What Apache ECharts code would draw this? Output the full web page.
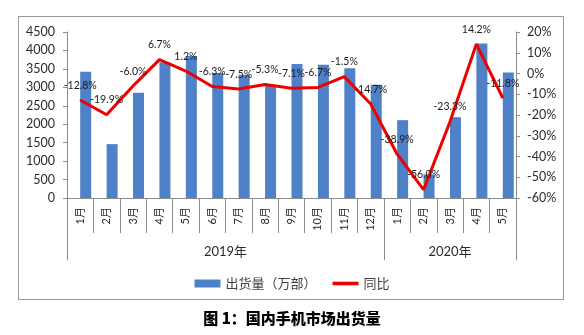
<!DOCTYPE html>
<html>
<head>
<meta charset="utf-8">
<script src="https://cdn.jsdelivr.net/npm/echarts@6/dist/echarts.min.js"></script>
<style>
html,body{margin:0;padding:0;background:#fff;}
#wrap{position:relative;width:584px;height:335px;}
#chart{position:absolute;left:0;top:0;width:584px;height:335px;}
#frame{position:absolute;left:18px;top:16px;width:544px;height:282px;border:1px solid #9a9a9a;pointer-events:none;}
</style>
</head>
<body>
<div id="wrap"><div id="frame"></div><div id="chart"></div></div>
<script>
var months = ['1月','2月','3月','4月','5月','6月','7月','8月','9月','10月','11月','12月','1月','2月','3月','4月','5月'];
var years = ['2019年','2020年'];
var yearSpans = [12, 5];
var shipments = [3420, 1460, 2850, 3680, 3850, 3390, 3340, 3070, 3630, 3610, 3520, 3070, 2110, 640, 2190, 4190, 3400];
var yoy = [-12.8, -19.9, -6.0, 6.7, 1.2, -6.3, -7.5, -5.3, -7.1, -6.7, -1.5, -14.7, -38.9, -56.0, -23.3, 14.2, -11.8];
var leftTicks = [0, 4500, 500];
var rightTicks = [-60, 20, 10];

var yearBounds = [0], yearCenters = [];
for (var i = 0, acc = 0; i < yearSpans.length; i++) {
  yearCenters.push(acc + yearSpans[i] / 2);
  acc += yearSpans[i];
  yearBounds.push(acc);
}
var padding = months.map(function(){ return null; });

var FONT = 'Lato, "Noto Sans CJK SC", sans-serif';
var AX = '#8c8c8c';
var TXT = '#2b2b2b';

var chart = echarts.init(document.getElementById('chart'), null, {renderer: 'canvas'});
chart.setOption({
  animation: false,
  textStyle: {fontFamily: FONT},
  grid: {left: 67, right: 68, top: 32, bottom: 137, containLabel: false},
  title: {
    text: '图 1：国内手机市场出货量',
    left: 'center', top: 306,
    textStyle: {fontSize: 15, fontWeight: 900, color: '#000', fontFamily: '"Noto Sans CJK SC", sans-serif'}
  },
  legend: {
    top: 272, left: 'center',
    itemWidth: 26, itemHeight: 8, itemGap: 16,
    textStyle: {fontSize: 13, color: '#404040', fontFamily: '"Noto Sans CJK SC", sans-serif'},
    data: [
      {name: '出货量（万部）', icon: 'rect'},
      {name: '同比', icon: 'path://M0,0 L26,0 L26,3.6 L0,3.6 Z', itemStyle: {color: '#ee0000', opacity: 1}}
    ]
  },
  xAxis: [
    {
      type: 'category', data: months, position: 'bottom', offset: 0,
      axisLine: {show: true, onZero: false, lineStyle: {color: AX, width: 1}},
      axisTick: {show: true, inside: false, interval: 0, length: 35, lineStyle: {color: AX}},
      axisLabel: {interval: 0, rotate: 90, margin: 9, fontSize: 11, color: TXT, fontFamily: FONT},
      splitLine: {show: false}
    },
    {
      type: 'value', min: 0, max: months.length, position: 'bottom', offset: 0,
      axisLine: {show: false, onZero: false},
      axisTick: {show: true, inside: false, customValues: yearBounds, length: 62, lineStyle: {color: AX}},
      axisLabel: {
        show: true, inside: false, customValues: yearCenters, margin: 47, fontSize: 13, color: TXT, fontFamily: FONT,
        formatter: function (v) {
          var k = yearCenters.indexOf(v);
          return k >= 0 ? years[k] : '';
        }
      },
      splitLine: {show: false}
    }
  ],
  yAxis: [
    {
      type: 'value', min: leftTicks[0], max: leftTicks[1], interval: leftTicks[2], position: 'left',
      axisLine: {show: true, onZero: false, lineStyle: {color: AX}},
      axisTick: {show: true, length: 4, lineStyle: {color: AX}},
      axisLabel: {margin: 12, fontSize: 12.5, color: TXT, fontFamily: FONT, formatter: function (v) { return String(v); }},
      splitLine: {show: false}
    },
    {
      type: 'value', min: rightTicks[0], max: rightTicks[1], interval: rightTicks[2], position: 'right',
      axisLine: {show: true, onZero: false, lineStyle: {color: AX}},
      axisTick: {show: true, length: 4, lineStyle: {color: AX}},
      axisLabel: {margin: 11, fontSize: 12.5, color: TXT, fontFamily: FONT, formatter: function (v) { return v + '%'; }},
      splitLine: {show: false}
    }
  ],
  series: [
    {
      name: 'pad', type: 'bar', xAxisIndex: 0, yAxisIndex: 0, data: padding,
      barWidth: 11, barGap: '0%', itemStyle: {color: 'rgba(0,0,0,0)'}, silent: true
    },
    {
      name: '出货量（万部）', type: 'bar', xAxisIndex: 0, yAxisIndex: 0, data: shipments,
      barWidth: 11, barGap: '0%',
      itemStyle: {color: '#4f81c8'}
    },
    {
      name: '同比', type: 'line', xAxisIndex: 0, yAxisIndex: 1, data: yoy,
      symbol: 'circle', symbolSize: 1, showSymbol: true, smooth: false,
      lineStyle: {color: '#ee0000', width: 3},
      itemStyle: {color: '#ee0000'},
      z: 5,
      labelLayout: {hideOverlap: false},
      label: {
        show: true, position: 'top', distance: 9, fontSize: 10.5, color: '#1a1a1a', fontFamily: FONT,
        formatter: function (p) { return Number(p.value).toFixed(1) + '%'; }
      }
    }
  ]
});
</script>
</body>
</html>
